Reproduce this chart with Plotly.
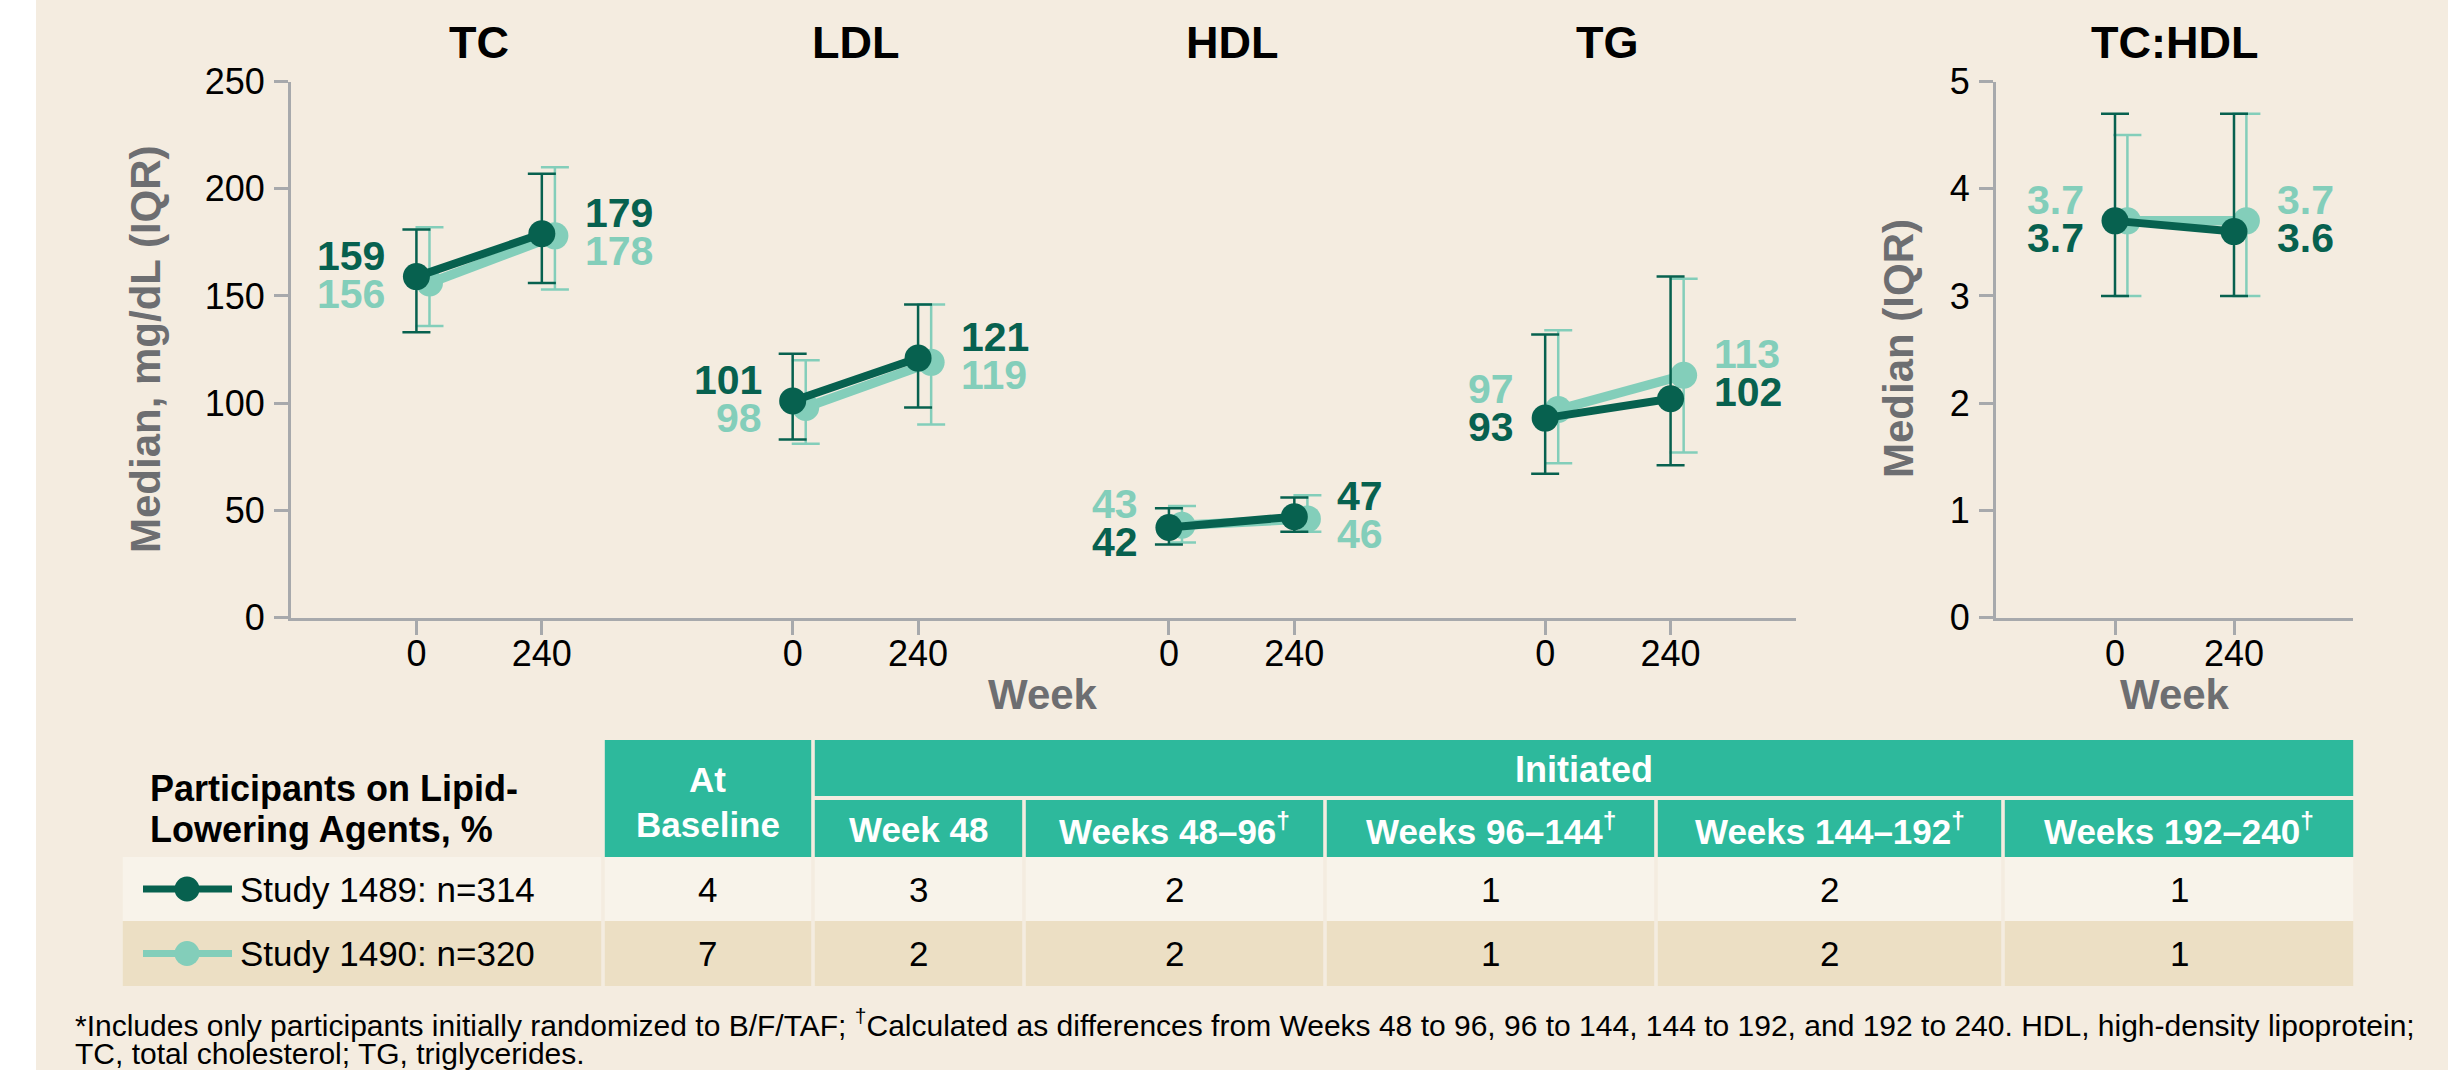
import plotly.graph_objects as go

W, H = 2457, 1070

# colours
DARK = "#07614F"
LIGHT = "#83CEBA"
TEAL = "#2DB99C"
BG = "#F4ECE0"
ROW1 = "#F8F3EA"
ROW2 = "#ECDFC4"
AXIS = "#A7A9AC"
GRAY = "#6D6E71"
FONT = "Liberation Sans, Arial, sans-serif"

# data: each entry is [week 0, week 240]
groups = ["TC", "LDL", "HDL", "TG"]
weeks = [0, 240]
week_labels = ["0", "240"]

med_1489 = [[159, 179], [101, 121], [42, 47], [93, 102]]
q1_1489 = [[133, 156], [83, 98], [34, 40], [67, 71]]
q3_1489 = [[181, 207], [123, 146], [51, 56], [132, 159]]

med_1490 = [[156, 178], [98, 119], [43, 46], [97, 113]]
q1_1490 = [[136, 153], [81, 90], [35, 40], [72, 77]]
q3_1490 = [[182, 210], [120, 146], [52, 57], [134, 158]]

ratio_name = "TC:HDL"
ratio_med_1489 = [3.7, 3.6]
ratio_q1_1489 = [3.0, 3.0]
ratio_q3_1489 = [4.7, 4.7]
ratio_med_1490 = [3.7, 3.7]
ratio_q1_1490 = [3.0, 3.0]
ratio_q3_1490 = [4.5, 4.7]

# table
table_title = ["Participants on Lipid-", "Lowering Agents, %"]
baseline_header = ["At", "Baseline"]
initiated_header = "Initiated"
period_headers = ["Week 48", "Weeks 48–96<sup>†</sup>", "Weeks 96–144<sup>†</sup>",
                  "Weeks 144–192<sup>†</sup>", "Weeks 192–240<sup>†</sup>"]
study_labels = ["Study 1489: n=314", "Study 1490: n=320"]
pct_1489 = [4, 3, 2, 1, 2, 1]
pct_1490 = [7, 2, 2, 1, 2, 1]

footnote = ["*Includes only participants initially randomized to B/F/TAF; <sup>†</sup>Calculated as differences "
            "from Weeks 48 to 96, 96 to 144, 144 to 192, and 192 to 240. HDL, high-density lipoprotein;",
            "TC, total cholesterol; TG, triglycerides."]

GROUP_GAP = 720   # x units between panels on the shared axis
LIGHT_OFF = 25    # small dodge for study 1490


def px(x):
    return x / W


def py(y):
    return 1 - y / H


fig = go.Figure()


def add_series(xs, med, q1, q3, color, lw, xa, ya):
    fig.add_trace(go.Scatter(
        x=xs, y=med, mode="lines+markers",
        line=dict(color=color, width=lw),
        marker=dict(color=color, size=27),
        error_y=dict(type="data", symmetric=False,
                     array=[b - m for m, b in zip(med, q3)],
                     arrayminus=[m - a for m, a in zip(med, q1)],
                     color=color, thickness=2.5, width=14),
        cliponaxis=False, showlegend=False, hoverinfo="skip",
        xaxis=xa, yaxis=ya))


def add_labels(x0, dark, light, xa, ya):
    # values at week 0 go on the left, week 240 on the right
    for i, w in enumerate(weeks):
        d, l = dark[i], light[i]
        if d > l:
            top, bot = (d, DARK), (l, LIGHT)
        else:
            top, bot = (l, LIGHT), (d, DARK)
        ypos = max(d, l)
        anchor = "right" if i == 0 else "left"
        shift = -29 if i == 0 else 41
        for (val, col), ysh in [(top, 21), (bot, -17)]:
            fig.add_annotation(x=x0 + w, y=ypos, xref=xa, yref=ya, text="<b>" + str(val) + "</b>",
                               showarrow=False, xanchor=anchor, yanchor="middle",
                               xshift=shift, yshift=ysh,
                               font=dict(family=FONT, size=41, color=col))


# main panel
tickvals = []
ticktext = []
for gi, g in enumerate(groups):
    x0 = GROUP_GAP * gi
    tickvals += [x0 + w for w in weeks]
    ticktext += week_labels
    add_series([x0 + w + LIGHT_OFF for w in weeks], med_1490[gi], q1_1490[gi], q3_1490[gi],
               LIGHT, 9.5, "x", "y")
    add_series([x0 + w for w in weeks], med_1489[gi], q1_1489[gi], q3_1489[gi],
               DARK, 8, "x", "y")
    add_labels(x0, med_1489[gi], med_1490[gi], "x", "y")
    fig.add_annotation(x=x0 + 120, y=py(42), xref="x", yref="paper", text="<b>" + g + "</b>",
                       showarrow=False, xanchor="center", yanchor="middle",
                       font=dict(family=FONT, size=45, color="black"))

# ratio panel
add_series([w + LIGHT_OFF for w in weeks], ratio_med_1490, ratio_q1_1490, ratio_q3_1490,
           LIGHT, 9.5, "x2", "y2")
add_series(weeks, ratio_med_1489, ratio_q1_1489, ratio_q3_1489, DARK, 8, "x2", "y2")
add_labels(0, ratio_med_1489, ratio_med_1490, "x2", "y2")
fig.add_annotation(x=120, y=py(42), xref="x2", yref="paper", text="<b>" + ratio_name + "</b>",
                   showarrow=False, xanchor="center", yanchor="middle",
                   font=dict(family=FONT, size=45, color="black"))

axis_common = dict(showgrid=False, zeroline=False, showline=True, linecolor=AXIS, linewidth=3,
                   ticks="outside", ticklen=14, tickwidth=3, tickcolor=AXIS, automargin=False,
                   tickfont=dict(family=FONT, size=36, color="black"))

ydom = [py(617.5), py(81.5)]
fig.update_layout(
    xaxis=dict(domain=[px(291), px(1796)], range=[-240, GROUP_GAP * 3 + 480],
               tickvals=tickvals, ticktext=ticktext, anchor="y", ticklabelstandoff=-12,
               **axis_common),
    yaxis=dict(domain=ydom, range=[0, 250], tickvals=[0, 50, 100, 150, 200, 250],
               anchor="x", ticklabelstandoff=2, **axis_common),
    xaxis2=dict(domain=[px(1996), px(2353)], range=[-240, 480], tickvals=weeks,
                ticktext=week_labels, anchor="y2", ticklabelstandoff=-12, **axis_common),
    yaxis2=dict(domain=ydom, range=[0, 5], tickvals=[0, 1, 2, 3, 4, 5], anchor="x2",
                ticklabelstandoff=2, **axis_common),
)

# axis titles
for x, y, t, ang in [(145, 349, "Median, mg/dL (IQR)", -90), (1898, 349, "Median (IQR)", -90),
                     (1043, 694, "Week", 0), (2175, 694, "Week", 0)]:
    fig.add_annotation(x=px(x), y=py(y), xref="paper", yref="paper", text="<b>" + t + "</b>",
                       textangle=ang, showarrow=False, xanchor="center", yanchor="middle",
                       font=dict(family=FONT, size=42, color=GRAY))

shapes = []
# beige panel background
shapes.append(dict(type="rect", xref="paper", yref="paper", x0=px(36), x1=px(2448), y0=0, y1=1,
                   fillcolor=BG, line=dict(width=0), layer="below"))


def cell(x0, x1, y0, y1, color):
    g = 1.8
    shapes.append(dict(type="rect", xref="paper", yref="paper",
                       x0=px(x0 + g), x1=px(x1 - g), y0=py(y1), y1=py(y0),
                       fillcolor=color, line=dict(width=0), layer="below"))


col_edges = [121, 603, 813, 1024, 1325, 1656, 2003, 2355]
head_top, head_mid, head_bot = 740, 798, 857
row_edges = [857, 921, 986]

# header cells
cell(col_edges[1], col_edges[2], head_top, head_bot, TEAL)
cell(col_edges[2], col_edges[-1], head_top, head_mid - 2, TEAL)
for i in range(5):
    cell(col_edges[i + 2], col_edges[i + 3], head_mid + 2, head_bot, TEAL)

# body cells
for r, color in enumerate([ROW1, ROW2]):
    for c in range(len(col_edges) - 1):
        cell(col_edges[c], col_edges[c + 1], row_edges[r], row_edges[r + 1], color)


def txt(x, y, t, size, color, anchor="center", bold=False):
    fig.add_annotation(x=px(x), y=py(y), xref="paper", yref="paper",
                       text=("<b>" + t + "</b>") if bold else t,
                       showarrow=False, xanchor=anchor, yanchor="middle",
                       font=dict(family=FONT, size=size, color=color))


txt(148, 788, table_title[0], 36, "black", "left", True)
txt(148, 829, table_title[1], 36, "black", "left", True)
cx = (col_edges[1] + col_edges[2]) / 2
txt(cx, 779, baseline_header[0], 35, "white", bold=True)
txt(cx, 824, baseline_header[1], 35, "white", bold=True)
txt((col_edges[2] + col_edges[-1]) / 2, 769, initiated_header, 36, "white", bold=True)
for i, h in enumerate(period_headers):
    txt((col_edges[i + 2] + col_edges[i + 3]) / 2, 829, h, 35, "white", bold=True)

for r, (lab, vals, color) in enumerate([(study_labels[0], pct_1489, DARK),
                                       (study_labels[1], pct_1490, LIGHT)]):
    yc = (row_edges[r] + row_edges[r + 1]) / 2
    # legend icon
    shapes.append(dict(type="line", xref="paper", yref="paper", x0=px(143), x1=px(232),
                       y0=py(yc), y1=py(yc), line=dict(color=color, width=7)))
    shapes.append(dict(type="circle", xref="paper", yref="paper", x0=px(187 - 12.5), x1=px(187 + 12.5),
                       y0=py(yc + 12.5), y1=py(yc - 12.5), fillcolor=color, line=dict(width=0)))
    txt(238, yc, lab, 35, "black", "left")
    for c, v in enumerate(vals):
        txt((col_edges[c + 1] + col_edges[c + 2]) / 2, yc, str(v), 35, "black")

txt(73, 1023, footnote[0], 30, "black", "left")
txt(73, 1053, footnote[1], 30, "black", "left")

fig.update_layout(
    width=W, height=H, margin=dict(l=0, r=0, t=0, b=0, pad=0, autoexpand=False),
    paper_bgcolor="white", plot_bgcolor="rgba(0,0,0,0)",
    shapes=shapes, font=dict(family=FONT),
)

# drop the default page margin so the figure sits at the window's corner
fig.write_html("out.html", config={"responsive": False, "displayModeBar": False},
               post_script="document.body.style.margin='0px';document.body.style.overflow='hidden';")
